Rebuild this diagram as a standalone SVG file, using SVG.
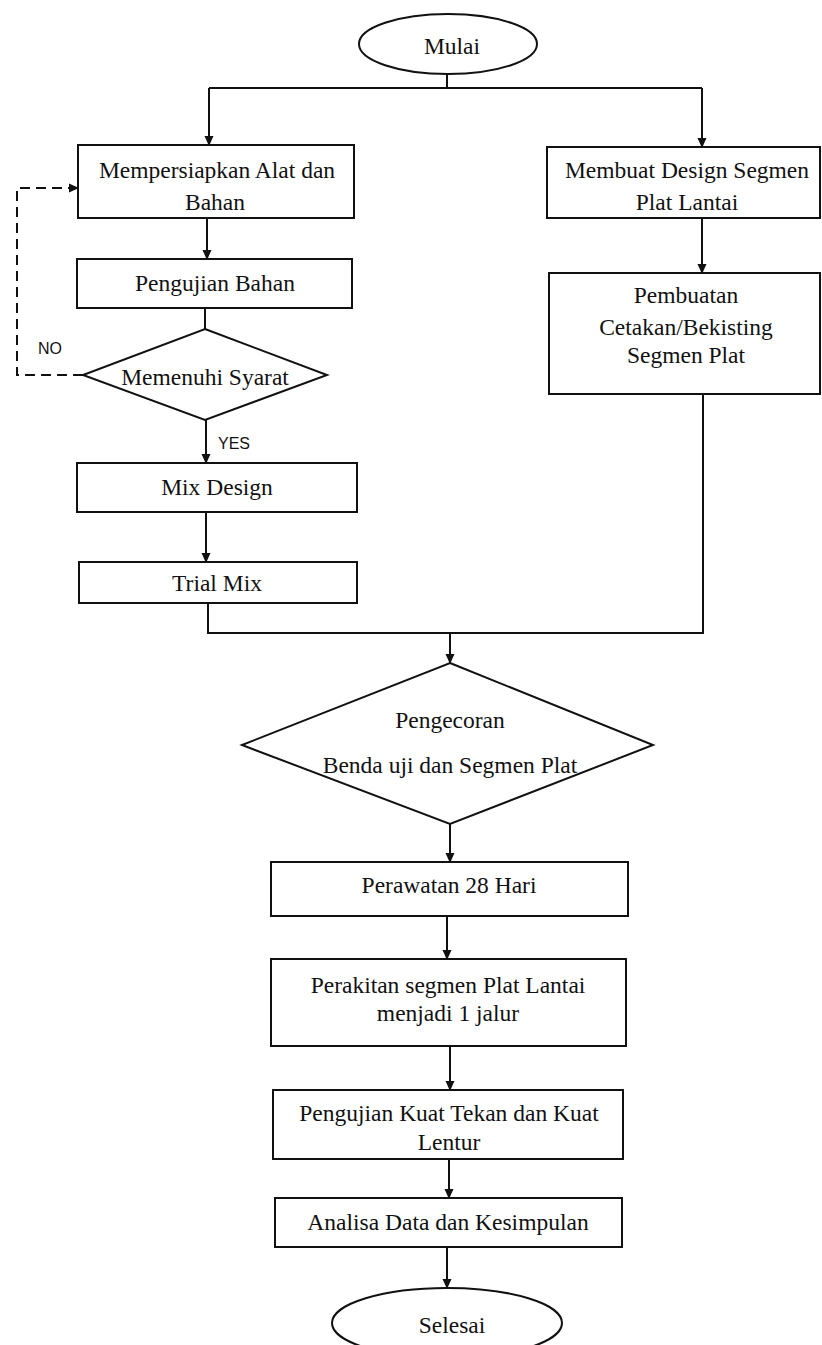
<svg xmlns="http://www.w3.org/2000/svg" width="822" height="1345" viewBox="0 0 822 1345">
<style>
.n{fill:#fff;stroke:#111;stroke-width:2}
.t{font-family:"Liberation Serif","Times New Roman",serif;font-size:23.5px;fill:#111;text-anchor:middle}
.s{font-family:"Liberation Sans",Arial,sans-serif;font-size:16px;fill:#111}
.c{fill:none;stroke:#111;stroke-width:2}
.d{fill:none;stroke:#111;stroke-width:2;stroke-dasharray:10 6}
</style>
<defs>
<marker id="ah" markerUnits="userSpaceOnUse" markerWidth="10" markerHeight="10" refX="9" refY="5" orient="auto">
<path d="M0,0.5 L10,5 L0,9.5 Z" fill="#111"/>
</marker>
</defs>
<rect width="822" height="1345" fill="#fff"/>
<g id="connectors">
<path class="c" d="M447,74 V88 M209,88 H702"/>
<path class="c" d="M209,88 V145" marker-end="url(#ah)"/>
<path class="c" d="M702,88 V147" marker-end="url(#ah)"/>
<path class="c" d="M207,218 V259" marker-end="url(#ah)"/>
<path class="c" d="M205,308 V329"/>
<path class="d" d="M83,375 H17 V188 H78" marker-end="url(#ah)"/>
<path class="c" d="M206,420 V463" marker-end="url(#ah)"/>
<path class="c" d="M206,512 V562" marker-end="url(#ah)"/>
<path class="c" d="M208,603 V633 H703 V394"/>
<path class="c" d="M702,218 V273" marker-end="url(#ah)"/>
<path class="c" d="M450,633 V663" marker-end="url(#ah)"/>
<path class="c" d="M450,824 V862" marker-end="url(#ah)"/>
<path class="c" d="M447,916 V959" marker-end="url(#ah)"/>
<path class="c" d="M450,1046 V1090" marker-end="url(#ah)"/>
<path class="c" d="M449,1159 V1198" marker-end="url(#ah)"/>
<path class="c" d="M447,1247 V1288" marker-end="url(#ah)"/>
<text class="s" x="38" y="354">NO</text>
<text class="s" x="218" y="449">YES</text>
</g>
<g id="mulai">
<ellipse class="n" cx="448" cy="44" rx="89" ry="30"/>
<text class="t" x="452" y="54">Mulai</text>
</g>
<g id="mempersiapkan">
<rect class="n" x="78" y="145" width="276" height="73"/>
<text class="t" x="217" y="178">Mempersiapkan Alat dan</text>
<text class="t" x="215" y="210">Bahan</text>
</g>
<g id="membuat-design">
<rect class="n" x="547" y="147" width="273" height="71"/>
<text class="t" x="687" y="178">Membuat Design Segmen</text>
<text class="t" x="687" y="210">Plat Lantai</text>
</g>
<g id="pengujian-bahan">
<rect class="n" x="77" y="259" width="275" height="49"/>
<text class="t" x="215" y="291">Pengujian Bahan</text>
</g>
<g id="memenuhi-syarat">
<polygon class="n" points="205,329 327,375 205,420 83,375"/>
<text class="t" x="205" y="385">Memenuhi Syarat</text>
</g>
<g id="pembuatan-cetakan">
<rect class="n" x="549" y="273" width="271" height="121"/>
<text class="t" x="686" y="303">Pembuatan</text>
<text class="t" x="686" y="335">Cetakan/Bekisting</text>
<text class="t" x="686" y="363">Segmen Plat</text>
</g>
<g id="mix-design">
<rect class="n" x="77" y="463" width="280" height="49"/>
<text class="t" x="217" y="495">Mix Design</text>
</g>
<g id="trial-mix">
<rect class="n" x="79" y="562" width="278" height="41"/>
<text class="t" x="217" y="591">Trial Mix</text>
</g>
<g id="pengecoran">
<polygon class="n" points="450,663 653,745 450,824 242,745"/>
<text class="t" x="450" y="728">Pengecoran</text>
<text class="t" x="450" y="773">Benda uji dan Segmen Plat</text>
</g>
<g id="perawatan">
<rect class="n" x="271" y="862" width="357" height="54"/>
<text class="t" x="449" y="893">Perawatan 28 Hari</text>
</g>
<g id="perakitan">
<rect class="n" x="271" y="959" width="355" height="87"/>
<text class="t" x="448" y="993">Perakitan segmen Plat Lantai</text>
<text class="t" x="448" y="1021">menjadi 1 jalur</text>
</g>
<g id="pengujian-kuat">
<rect class="n" x="273" y="1090" width="350" height="69"/>
<text class="t" x="449" y="1121">Pengujian Kuat Tekan dan Kuat</text>
<text class="t" x="449" y="1150">Lentur</text>
</g>
<g id="analisa">
<rect class="n" x="275" y="1198" width="347" height="49"/>
<text class="t" x="448" y="1230">Analisa Data dan Kesimpulan</text>
</g>
<g id="selesai">
<ellipse class="n" cx="447" cy="1323" rx="115" ry="35"/>
<text class="t" x="452" y="1333">Selesai</text>
</g>
</svg>
